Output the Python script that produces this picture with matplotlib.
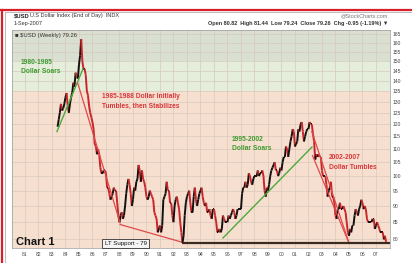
import numpy as np
import matplotlib
matplotlib.use('Agg')
import matplotlib.pyplot as plt
from matplotlib.collections import LineCollection
from matplotlib.lines import Line2D
from matplotlib.ticker import NullLocator

W, H = 412, 263

# monthly closes of $USD, May 1983 .. Sep 2007
first_year, first_month = 1983, 5
closes = [
    119, 122, 125, 129, 126, 127, 129, 132,                    # 1983
    134, 128, 125, 129, 132, 134, 139, 137, 144, 142, 141, 148,  # 1984
    153, 162, 150, 146, 146, 143, 135, 133, 128, 125, 123, 121,  # 1985
    118, 112, 111, 108, 110, 108, 103, 101, 101, 102, 102, 101,  # 1986
    96, 96, 94, 92, 93, 94, 96, 95, 95, 91, 87, 85,              # 1987
    87, 88, 86, 87, 90, 94, 97, 99, 97, 94, 90, 92,              # 1988
    96, 95, 98, 99, 104, 102, 98, 102, 99, 98, 96, 93,           # 1989
    92, 93, 95, 94, 93, 92, 88, 87, 86, 82, 83, 84,              # 1990
    82, 84, 92, 93, 94, 98, 95, 95, 91, 91, 87, 85,              # 1991
    90, 92, 93, 91, 89, 85, 82, 79, 81, 87, 91, 93,              # 1992
    94, 95, 91, 88, 88, 93, 96, 92, 90, 92, 94, 95,              # 1993
    96, 93, 91, 90, 91, 88, 88, 89, 87, 86, 89, 89,              # 1994
    87, 85, 82, 82, 83, 82, 83, 87, 86, 85, 85, 85,              # 1995
    87, 86, 87, 88, 89, 88, 86, 87, 89, 89, 89, 89,              # 1996
    94, 96, 96, 98, 96, 97, 101, 100, 98, 97, 99, 100,           # 1997
    100, 100, 102, 100, 101, 101, 102, 100, 95, 93, 96, 95,      # 1998
    97, 100, 102, 103, 104, 105, 102, 102, 100, 101, 103, 102,   # 1999
    105, 107, 107, 111, 110, 107, 110, 113, 115, 118, 117, 111,  # 2000
    112, 113, 118, 117, 120, 121, 117, 113, 115, 117, 118, 118,  # 2001
    121, 120, 120, 116, 113, 106, 108, 107, 108, 107, 107, 102,  # 2002
    100, 100, 100, 97, 93, 95, 96, 98, 93, 93, 91, 87,           # 2003
    86, 89, 89, 91, 89, 89, 90, 89, 88, 85, 82, 81,              # 2004
    83, 82, 84, 84, 87, 89, 88, 87, 89, 90, 92, 91,              # 2005
    89, 90, 89, 86, 85, 85, 85, 85, 86, 86, 83, 84,              # 2006
    85, 84, 83, 82, 82, 82, 80, 81, 79.3,                        # 2007
]

years = list(range(1981, 2008))
year_labels = ['%02d' % (y % 100) for y in years]
price_ticks = list(range(80, 170, 5))

# trend lines (date, value)
green_8085 = ([1983.37, 1985.3], [117, 146])
red_8588 = ([1984.9, 1988.05], [139, 84.8])
red_8892 = ([1988.05, 1992.55], [84.3, 79.3])
green_9502 = ([1995.67, 2002.26], [80.4, 110.8])
red_0205a = ([2002.25, 2005.0], [117, 79])
red_0205b = ([2002.3, 2005.0], [107.5, 79])
support = ([1992.6, 2008.04], [79, 79])

t = first_year + (first_month - 1 + np.arange(len(closes)) + 1) / 12.0
closes = np.array(closes, dtype=float)

fig = plt.figure(figsize=(W / 100, H / 100), dpi=100)
plt.rcParams['font.family'] = ['Liberation Sans', 'DejaVu Sans']


def fx(x):
    return x / W


def fy(y):
    return 1 - y / H


ax = fig.add_axes([fx(12), fy(248), (390 - 12) / W, (248 - 30) / H])
ax.set_yscale('log')
ax.set_xlim(1980.04, 2008.04)
ax.set_ylim(77.6, 167.4)

# background bands
ax.axhspan(150, 200, color='#d9dfd1', zorder=0, lw=0)
ax.axhspan(135, 150, color='#e4eedb', zorder=0, lw=0)
ax.axhspan(70, 135, color='#f6dfcf', zorder=0, lw=0)

ax.yaxis.tick_right()
ax.set_yticks(price_ticks)
ax.set_yticklabels([str(v) for v in price_ticks])
ax.yaxis.set_minor_locator(NullLocator())
ax.set_xticks(years)
ax.set_xticklabels(year_labels)
ax.tick_params(axis='both', length=0, labelsize=3.6, colors='#444444')
ax.tick_params(axis='y', pad=2)
ax.tick_params(axis='x', pad=3)
ax.grid(True, color='#d6c6ba', lw=0.45, zorder=1)
for s in ax.spines.values():
    s.set_color('#9a9a9a')
    s.set_linewidth(0.5)

# price bars: black when up, red when down
pts = np.column_stack([t, closes])
segs = [pts[i:i + 2] for i in range(len(pts) - 1)]
cols = ['#151010' if closes[i + 1] >= closes[i] else '#c8262a'
        for i in range(len(pts) - 1)]
ax.add_collection(LineCollection(segs, colors=cols, linewidths=1.4, zorder=3))

for xs, ys in [green_8085, green_9502]:
    ax.plot(xs, ys, color='#4caa3c', lw=1.0, zorder=4)
for xs, ys in [red_8588, red_8892, red_0205a, red_0205b]:
    ax.plot(xs, ys, color='#e0494a', lw=0.9, zorder=4)
ax.plot(*support, color='#3a2a20', lw=1.6, zorder=4, solid_capstyle='butt')

note = dict(fontsize=4.8, fontweight='bold', va='center', linespacing=1.5, zorder=5)
ax.text(1980.7, 147, '1980-1985\nDollar Soars', color='#3f9a30', **note)
ax.text(1986.7, 130, '1985-1988 Dollar Initially\nTumbles, then Stabilizes',
        color='#d8363a', **note)
ax.text(1996.33, 112, '1995-2002\nDollar Soars', color='#3f9a30', **note)
ax.text(2003.5, 105, '2002-2007\nDollar Tumbles', color='#d8363a', **note)

ax.text(1980.3, 79.2, 'Chart 1', fontsize=8, fontweight='bold', color='#111111',
        va='center', zorder=5)
ax.text(1986.9, 78.8, 'LT Support - 79', fontsize=4.4, color='#111111', va='center',
        zorder=6, bbox=dict(boxstyle='square,pad=0.35', fc='#f4f4f4', ec='#333333', lw=0.6))

ax.text(0.008, 0.985, '■ $USD (Weekly) 79.26', transform=ax.transAxes,
        fontsize=4.2, color='#333333', va='top', zorder=6)

# header
fig.text(fx(14), fy(15.5), '$USD', fontsize=4.2, fontweight='bold', color='#222222', va='center')
fig.text(fx(30), fy(15.5), 'U.S Dollar Index (End of Day)  INDX', fontsize=4.0,
         color='#333333', va='center')
fig.text(fx(14), fy(23), '1-Sep-2007', fontsize=4.0, color='#333333', va='center')
fig.text(fx(388), fy(16), '@StockCharts.com', fontsize=4.0, color='#777777',
         va='center', ha='right')
fig.text(fx(388), fy(24), 'Open 80.82  High 81.44  Low 79.24  Close 79.26  Chg -0.95 (-1.19%) ▼',
         fontsize=4.0, fontweight='bold', color='#333333', va='center', ha='right')

# header box edges and red frame
fig.lines.append(Line2D([fx(5), 1], [fy(12), fy(12)], transform=fig.transFigure,
                        color='#a0a0a0', lw=0.5))
fig.lines.append(Line2D([fx(5), fx(5)], [fy(12), 0], transform=fig.transFigure,
                        color='#a0a0a0', lw=0.5))
fig.lines.append(Line2D([0, 1], [fy(10), fy(10)], transform=fig.transFigure,
                        color='#d8202a', lw=1.6))
fig.lines.append(Line2D([fx(2), fx(2)], [0, fy(10)], transform=fig.transFigure,
                        color='#d8202a', lw=1.6))

fig.savefig('out.png', dpi=100)
